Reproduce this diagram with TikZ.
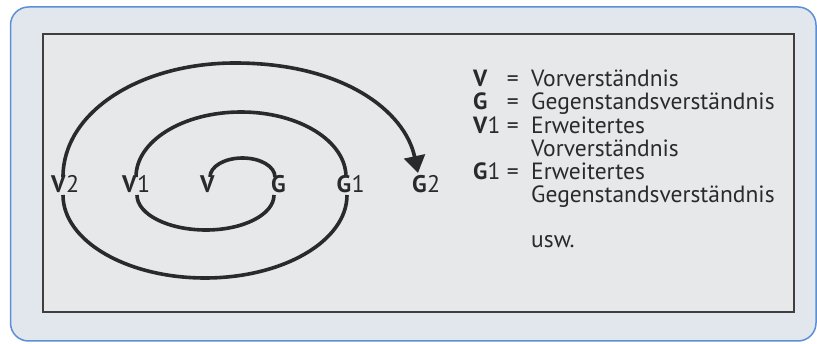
\documentclass[tikz,border=0pt]{standalone}
\usepackage{fontspec}
\setmainfont{PT Sans}
\usetikzlibrary{arrows.meta}
\definecolor{outerfill}{HTML}{E2E7EE}
\definecolor{outerline}{HTML}{5B8FD6}
\definecolor{innerfill}{HTML}{E6E8EA}
\definecolor{ink}{HTML}{2A2A2A}
\begin{document}
\begin{tikzpicture}[x=1pt,y=-1pt,
  spiral/.style={draw=ink, line width=3.6pt},
  lab/.style={inner sep=0pt, font=\fontsize{24}{28}\selectfont, text=ink},
  leg/.style={inner sep=0pt, anchor=base west, font=\fontsize{23.5}{28}\selectfont, text=ink},
  eqs/.style={inner sep=0pt, anchor=base east, font=\fontsize{23.5}{28}\selectfont, text=ink}]
\useasboundingbox (0,0) rectangle (817,344);
% frames
\draw[outerline, line width=1.5pt, fill=outerfill, rounded corners=18pt] (10.5,7) rectangle (816,341);
\draw[draw=ink!90, line width=1.2pt, fill=innerfill] (43,34) rectangle (794,312);

% crossing coordinates of the spiral
\coordinate (vt) at (210,177);
\coordinate (gt) at (275,177);
\coordinate (gb) at (274,195);
\coordinate (v1b) at (137,195);
\coordinate (v1t) at (136,177);
\coordinate (g1t) at (346,177);
\coordinate (g1b) at (347,195);
\coordinate (v2b) at (63,195);
\coordinate (v2t) at (63,177);
\coordinate (tip) at (418,173);
\coordinate (t1) at (242.5,158);
\coordinate (b1) at (206,230);
\coordinate (t2) at (241,112);
\coordinate (b2) at (205,278);
\coordinate (t3) at (235,63);

% spiral
\draw[spiral] (vt) .. controls +(0,-10.5) and +(-18,0) .. (t1) .. controls +(18,0) and +(0,-10.5) .. (gt);
\draw[spiral] (gb) .. controls +(0,19.5) and +(37.5,0) .. (b1) .. controls +(-37.5,0) and +(0,19.5) .. (v1b);
\draw[spiral] (v1t) .. controls +(0,-36) and +(-58,0) .. (t2) .. controls +(58,0) and +(0,-36) .. (g1t);
\draw[spiral] (g1b) .. controls +(0,46) and +(78,0) .. (b2) .. controls +(-78,0) and +(0,46) .. (v2b);
\draw[spiral, -{Triangle[length=17pt,width=21pt]}] (v2t) .. controls +(0,-65) and +(-95,0) .. (t3) .. controls +(108,0) and +(-13,-62) .. (tip);

% labels
\node[lab, anchor=base] (V2) at (58.5,193) {\textbf{V}};
\node[lab, anchor=base west] (V2d) at (V2.base east) {2};
\node[lab, anchor=base] (V1) at (129.5,193) {\textbf{V}};
\node[lab, anchor=base west] (V1d) at (V1.base east) {1};
\node[lab, anchor=base] (V) at (207.5,193) {\textbf{V}};
\node[lab, anchor=base] (G) at (278.5,193) {\textbf{G}};
\node[lab, anchor=base] (G1) at (344,193) {\textbf{G}};
\node[lab, anchor=base west] (G1d) at (G1.base east) {1};
\node[lab, anchor=base] (G2) at (419.5,193) {\textbf{G}};
\node[lab, anchor=base west] (G2d) at (G2.base east) {2};

% legend
\node[leg] (kV) at (473,86.7) {\textbf{V}};
\node[eqs] (eV) at (519,86.7) {=};
\node[leg] (dV) at (531,86.7) {Vorverständnis};
\node[leg] (kG) at (473,110) {\textbf{G}};
\node[eqs] (eG) at (519,110) {=};
\node[leg] (dG) at (531,110) {Gegenstandsverständnis};
\node[leg] (kV1) at (473,133.3) {\textbf{V}1};
\node[eqs] (eV1) at (519,133.3) {=};
\node[leg] (dV1) at (531,133.3) {Erweitertes};
\node[leg] (dV1b) at (531,156.6) {Vorverständnis};
\node[leg] (kG1) at (473,180) {\textbf{G}1};
\node[eqs] (eG1) at (519,180) {=};
\node[leg] (dG1) at (531,180) {Erweitertes};
\node[leg] (dG1b) at (531,203) {Gegenstandsverständnis};
\node[leg] (usw) at (531,248) {usw.};
\end{tikzpicture}
\end{document}
